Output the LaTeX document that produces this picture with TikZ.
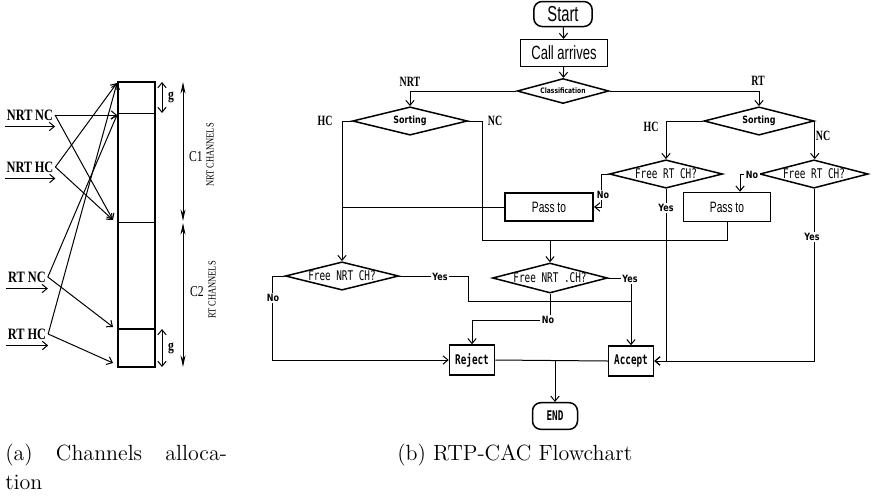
\documentclass[tikz,border=0pt]{standalone}
\usepackage{fontspec}
\newfontfamily\leftfont[FakeStretch=0.78]{Liberation Serif}
\newfontfamily\branchfont[FakeStretch=0.7]{Liberation Serif}
\newfontfamily\termfont[FakeStretch=0.68]{Liberation Sans}
\newfontfamily\deskfont[FakeStretch=0.8]{DejaVu Sans}
\newfontfamily\condmono[FakeStretch=0.7]{DejaVu Sans Mono}
\usetikzlibrary{arrows.meta, shapes.geometric}
\tikzset{
    >={Straight Barb[length=3pt,width=5pt]},
    flow/.style={line width=0.6pt},
    box/.style={draw, line width=0.9pt, inner sep=0pt},
    term/.style={box, rounded corners=5pt},
    dia/.style={draw, diamond, aspect=4, inner sep=0pt, line width=0.9pt},
    branch/.style={font=\branchfont\bfseries\fontsize{8.5}{9}\selectfont},
    yn/.style={font=\deskfont\bfseries\fontsize{6}{7}\selectfont, fill=white, inner sep=1pt},
    chan/.style={font=\leftfont\bfseries\fontsize{9.5}{10}\selectfont, inner sep=1pt},
    check/.style={font=\condmono\fontsize{8}{9}\selectfont},
    verdict/.style={font=\condmono\bfseries\fontsize{8}{9}\selectfont},
    caption/.style={anchor=north west, inner sep=0pt, font=\fontsize{13.2}{17}\selectfont},
    span/.style={{Stealth[length=7pt,width=3pt]}-{Stealth[length=7pt,width=3pt]}}
}

\begin{document}
\begin{tikzpicture}[x=0.6pt, y=-0.6pt]
    \useasboundingbox (0,0) rectangle (873,498);

    % Channel column
    \coordinate (colTL) at (118,82);
    \coordinate (colBR) at (155,367);
    \draw[line width=0.8pt] (colTL) rectangle (colBR);
    \draw[line width=0.6pt] (118,113) -- (155,113);
    \draw[line width=0.6pt] (118,222) -- (155,222);
    \draw[line width=1.2pt] (118,329) rectangle (colBR);

    % Guard and capacity spans
    \draw[flow, <->] (162,82) -- (162,113) node[midway, right, font=\leftfont\bfseries\fontsize{9}{9}\selectfont] {g};
    \draw[flow, <->] (162,329) -- (162,367) node[midway, right, font=\leftfont\bfseries\fontsize{9}{9}\selectfont] {g};
    \draw[flow, span] (183,82) -- (183,221);
    \draw[flow, span] (183,223) -- (183,367);
    \node[font=\leftfont\fontsize{9}{9}\selectfont] at (196,157) {C1};
    \node[rotate=90, font=\leftfont\fontsize{6.5}{7}\selectfont] at (210,155) {NRT CHANNELS};
    \node[font=\leftfont\fontsize{9}{9}\selectfont] at (197,292) {C2};
    \node[rotate=90, font=\leftfont\fontsize{6.5}{7}\selectfont] at (212,290) {RT CHANNELS};

    % Call types
    \node[chan] (nrtnc) at (30,115) {NRT\,NC};
    \node[chan] (nrthc) at (30,167) {NRT\,HC};
    \node[chan] (rtnc) at (27,277) {RT NC};
    \node[chan] (rthc) at (27,334) {RT HC};
    \foreach \n in {nrtnc, nrthc, rtnc, rthc}
        \draw[flow, ->] ([yshift=-2.5pt]\n.south west) -- ([yshift=-2.5pt]\n.south east);

    % Targets on the column
    \coordinate (gTop) at (117,83);
    \coordinate (gLine) at (117,115);
    \coordinate (cMid) at (113,220);
    \coordinate (cLow) at (113,327);
    \coordinate (cBot) at (113,363);
    \draw[flow, ->] (nrtnc.east) -- (gLine);
    \draw[flow, ->] (nrtnc.east) -- (cMid);
    \draw[flow, ->] (nrthc.east) -- (gTop);
    \draw[flow, ->] (nrthc.east) -- (cMid);
    \draw[flow, ->] (rtnc.east) -- (gLine);
    \draw[flow, ->] (rtnc.east) -- (cLow);
    \draw[flow, ->] (rthc.east) -- (gTop);
    \draw[flow, ->] (rthc.east) -- (cBot);

    % Flowchart nodes
    \node[term, minimum width=35pt, minimum height=15pt, font=\termfont\fontsize{13}{14}\selectfont] (start) at (563,14) {Start};
    \node[box, minimum width=52pt, minimum height=16pt, font=\termfont\fontsize{11.5}{12}\selectfont] (call) at (564,53) {Call arrives};
    \node[dia, aspect=3.7, minimum width=55pt, minimum height=15pt, font=\deskfont\bfseries\fontsize{4.5}{5}\selectfont] (classify) at (563,91) {Classification};
    \node[dia, minimum width=69pt, minimum height=17pt, font=\deskfont\bfseries\fontsize{6}{7}\selectfont] (sortN) at (410,121) {Sorting};
    \node[dia, minimum width=66pt, minimum height=17pt, font=\deskfont\bfseries\fontsize{6}{7}\selectfont] (sortR) at (759,121) {Sorting};
    \node[dia, minimum width=68pt, minimum height=17pt, check] (freeRh) at (666,174) {Free RT CH?};
    \node[dia, minimum width=65pt, minimum height=17pt, check] (freeRn) at (814,174) {Free RT CH?};
    \node[box, line width=1.1pt, minimum width=53pt, minimum height=17pt, font=\termfont\fontsize{9}{10}\selectfont] (passN) at (549,207) {Pass to};
    \node[box, minimum width=52pt, minimum height=17.4pt, font=\termfont\fontsize{9}{10}\selectfont] (passR) at (727,207) {Pass to};
    \node[dia, minimum width=68pt, minimum height=17pt, check] (freeNh) at (342,276) {Free NRT CH?};
    \node[dia, minimum width=69pt, minimum height=18pt, check] (freeNn) at (550,278) {Free NRT .CH?};
    \node[box, minimum width=27pt, minimum height=18pt, verdict] (reject) at (472,360) {Reject};
    \node[box, minimum width=27pt, minimum height=18pt, verdict] (accept) at (631,361) {Accept};
    \node[term, minimum width=27pt, minimum height=16pt, verdict] (theend) at (555,416) {END};

    % Main path
    \draw[flow, ->] (start) -- (call);
    \draw[flow, ->] (call) -- (classify);
    \draw[flow, ->] (classify.west) -| (sortN.north);
    \draw[flow, ->] (classify.east) -| (sortR.north);

    % NRT branch
    \coordinate (jNC) at (482,240);
    \draw[flow, ->] (sortN.west) -| (freeNh.north);
    \draw[flow, ->] (sortN.east) -| (jNC) -| (freeNn.north);
    \draw[flow] (passN.west) -- (passN.west -| freeNh.north);

    % RT branch
    \coordinate (noA) at (601,207);
    \coordinate (noB) at (740,174);
    \draw[flow, ->] (sortR.west) -| (freeRh.north);
    \draw[flow, ->] (sortR.east) -- (sortR.east |- freeRn.north);
    \draw[flow, ->] (freeRh.west) -| (noA) -- (passN.east);
    \draw[flow, ->] (freeRn.west) -- (noB) -- (noB |- passR.north);
    \draw[flow] (passR.south) |- (jNC);
    \draw[flow, ->] (freeRh.south) |- (accept.east);
    \draw[flow, ->] (freeRn.south) |- (accept.east);

    % Checks to Accept and Reject
    \coordinate (yesA) at (468,301);
    \coordinate (noC) at (548,320);
    \draw[flow, ->] (freeNn.east) -| (accept.north);
    \draw[flow] (freeNh.east) -| (yesA) -- (yesA -| accept.north);
    \draw[flow, ->] (freeNn.south) -- (freeNn.south |- noC) -| (reject.north);
    \draw[flow, ->] (freeNh.west) -- ++(-12,0) |- (reject.west);
    \draw[flow] (reject.east) -- (accept.west);
    \draw[flow, ->] (reject.east -| theend.north) -- (theend.north);

    % Branch labels
    \node[branch] at (410,82) {NRT};
    \node[branch] at (758,81) {RT};
    \node[branch] at (325,121) {HC};
    \node[branch] at (495,121) {NC};
    \node[branch] at (651,127) {HC};
    \node[branch] at (823,136) {NC};

    % Yes / No labels
    \node[yn] at (603,195) {No};
    \node[yn] at (752,175) {No};
    \node[yn] at (666,208) {Yes};
    \node[yn] at (812,237) {Yes};
    \node[yn] at (630,279) {Yes};
    \node[yn] at (440,277) {Yes};
    \node[yn] at (548,320) {No};
    \node[yn] at (273,298) {No};

    % Captions
    \node[caption, align=left] (capA) at (5,444) {\makebox[133pt][s]{(a) Channels alloca-}\\tion};
    \node[caption] (capB) at (397,444) {(b) RTP-CAC Flowchart};
\end{tikzpicture}
\end{document}
